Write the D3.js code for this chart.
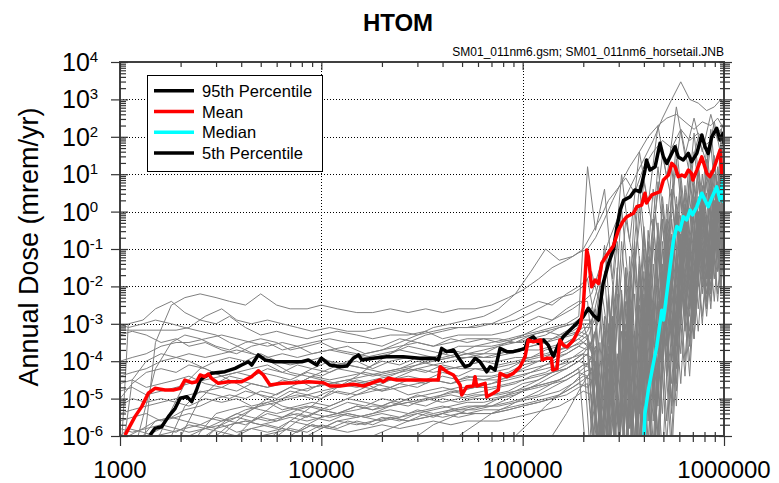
<!doctype html>
<html>
  <head>
    <meta charset="utf8">
    <script src="https://d3js.org/d3.v7.min.js"></script>
    <style type="text/css">
      body {
        margin: 0;
        background: #fff;
        font-family: 'Liberation Sans', Arial, sans-serif;
      }
    </style>
  </head>
  <body>
    <script type="text/javascript">
      const w = 779;
      const h = 483;
      const plot = {left: 120, right: 724, top: 62, bottom: 436};

      // sample times (yr) of the realizations; odd rows were saved on the second grid
      const years = [1000, 1100, 1300, 1500, 1800, 2100, 2500, 3000, 3500, 4200, 5000, 6000,
        7000, 8500, 10000, 12000, 15000, 18000, 22000, 27000, 33000, 40000, 48000, 58000,
        70000, 85000, 100000, 120000, 140000, 165000, 190000,
        210000, 230000, 255000, 280000, 310000, 340000, 380000, 420000, 470000, 520000,
        580000, 640000, 710000, 780000, 860000, 930000, 1000000];
      const yearsAlt = [1000, 1150, 1350, 1600, 1900, 2200, 2650, 3200, 3800, 4500, 5400, 6400,
        7600, 9000, 11000, 13500, 16500, 20000, 24500, 30000, 36000, 44000, 53000, 64000,
        76000, 92000, 110000, 130000, 152000, 177000, 200000,
        220000, 242000, 267000, 295000, 325000, 360000, 400000, 445000, 495000, 550000,
        610000, 675000, 745000, 820000, 895000, 965000, 1000000];

      // log10 of annual dose (mrem/yr), one row per realization; -7 is under the plot
      const realizations = [
        [-7,-7,-6.5,-3.5,-2.5,-2.3,-2.2,-2.3,-2.4,-2.5,-2.2,-2.5,-2.6,-2.6,-2.5,-2.6,-2.7,-2.7,-2.6,-2.7,-2.6,-2.7,-2.6,-2.6, -2.5,-2.3,-2.1,-1.8,-1.5,-1.3,-1.1, -1.0,-0.7,-0.2,0.3,0.8,1.2,1.6,2.0,2.3,2.5,2.6,2.4,2.2,2.4,2.3,2.5,2.2],
        [-3.17,-3.17,-3.17,-3.17,-3.17,-3.1,-2.8,-2.6,-2.9,-3.0,-2.9,-3.0,-3.1,-3.2,-3.1,-3.2,-3.2,-3.1,-3.2,-3.3,-3.2,-3.1,-3.1,-3.0, -3.0,-2.9,-2.7,-2.5,-2.3,-2.2,-2.0, -1.6,-2.5,-1.0,-3.0,-0.2,-1.5,0.8,-0.5,1.5,0.3,2.2,1.0,2.0,1.3,2.4,1.5,2.1],
        [-7,-3.0,-2.9,-2.6,-2.4,-2.7,-2.9,-3.0,-2.8,-3.1,-3.3,-3.2,-3.3,-3.4,-3.3,-3.2,-3.3,-3.4,-3.3,-3.3,-3.2,-3.4,-3.3,-3.3, -3.3,-3.2,-3.0,-2.8,-2.9,-2.6,-2.4, -2.4,-4.5,-1.6,-5.0,-0.8,-3.5,0.2,-2.6,0.8,-1.6,1.4,-0.8,1.6,0.0,1.8,-0.3,1.6],
        [-3.3,-3.2,-3.3,-3.5,-3.4,-3.6,-3.5,-3.7,-3.8,-3.6,-3.5,-3.7,-3.6,-3.8,-3.7,-3.6,-3.8,-3.7,-3.6,-3.5,-3.6,-3.4,-3.5,-3.4, -3.5,-3.4,-3.3,-3.2,-3.1,-3.0,-2.9, -2.9,-5.5,-2.2,-6.5,-1.5,-4.5,-0.4,-3.5,0.4,-2.2,1.0,-1.4,1.3,-0.8,1.5,-0.4,1.3],
        [-7,-7,-5.5,-4.2,-3.5,-3.3,-3.4,-3.6,-3.7,-3.5,-3.4,-3.5,-3.7,-3.6,-3.5,-3.7,-3.8,-3.9,-3.8,-3.6,-3.7,-3.8,-3.6,-3.6, -3.6,-3.5,-3.5,-3.4,-3.4,-3.3,-3.2, -3.3,-7,-2.8,-7,-2.2,-6.5,-1.4,-5.0,-0.5,-3.6,0.2,-2.6,0.7,-1.8,0.9,-1.2,0.8],
        [-4.0,-3.9,-3.8,-3.6,-3.5,-3.5,-3.4,-3.3,-3.4,-3.5,-3.6,-3.5,-3.6,-3.5,-3.4,-3.5,-3.5,-3.6,-3.4,-3.5,-3.6,-3.5,-3.4,-3.4, -3.4,-3.5,-3.3,-3.2,-3.3,-3.1,-3.0, -3.0,-2.0,-5.0,-1.5,-6.5,-0.8,-5.0,-0.2,-3.4,0.4,-2.4,0.8,-1.6,1.1,-1.2,1.3,-0.6],
        [-7,-7,-7,-6.2,-5.3,-4.6,-4.2,-4.0,-3.9,-4.0,-3.8,-4.0,-4.1,-4.0,-3.9,-4.1,-4.0,-4.2,-4.0,-3.9,-4.0,-3.8,-3.9,-3.9, -3.9,-3.8,-3.7,-3.7,-3.6,-3.5,-3.3, -3.4,-2.8,-7,-2.2,-7,-1.6,-6.0,-0.8,-4.4,-0.2,-3.0,0.5,-2.2,0.7,-1.6,0.8,-1.0],
        [-5.0,-4.6,-4.3,-4.2,-4.3,-4.1,-4.2,-4.4,-4.3,-4.2,-4.1,-4.3,-4.4,-4.2,-4.3,-4.1,-4.2,-4.3,-4.2,-4.0,-4.1,-4.2,-4.1,-4.0, -4.0,-3.9,-3.9,-3.8,-3.7,-3.6,-3.5, -3.6,-7,-3.0,-7,-2.6,-7,-1.8,-5.6,-1.0,-4.0,-0.2,-2.8,0.3,-2.0,0.6,-1.4,0.5],
        [-7,-7,-7,-7,-6.5,-5.8,-5.0,-4.6,-4.4,-4.5,-4.3,-4.4,-4.5,-4.3,-4.4,-4.2,-4.3,-4.4,-4.3,-4.2,-4.3,-4.1,-4.2,-4.2, -4.2,-4.1,-4.0,-4.0,-3.9,-3.8,-3.6, -3.7,-3.2,-7,-2.8,-7,-2.2,-7,-1.4,-5.2,-0.6,-3.6,0.1,-2.6,0.4,-1.8,0.6,-1.2],
        [-4.6,-4.5,-4.7,-4.6,-4.5,-4.4,-4.6,-4.7,-4.5,-4.6,-4.7,-4.6,-4.5,-4.7,-4.6,-4.5,-4.6,-4.8,-4.7,-4.6,-4.5,-4.6,-4.5,-4.5, -4.5,-4.4,-4.3,-4.2,-4.1,-4.0,-3.8, -3.9,-7,-3.4,-7,-3.0,-7,-2.2,-6.2,-1.4,-4.6,-0.6,-3.2,0.0,-2.2,0.3,-1.6,0.2],
        [-7,-7,-7,-6.8,-6.0,-5.2,-4.8,-4.9,-5.0,-4.8,-4.9,-5.0,-4.8,-4.9,-5.0,-4.8,-4.9,-4.8,-4.7,-4.9,-4.8,-4.7,-4.8,-4.7, -4.7,-4.6,-4.5,-4.4,-4.3,-4.2,-4.0, -4.1,-3.6,-7,-3.2,-7,-2.6,-7,-1.8,-6.0,-1.0,-4.0,-0.3,-2.8,0.2,-2.0,0.4,-1.4],
        [-5.2,-5.0,-5.1,-5.0,-5.1,-5.2,-5.0,-5.1,-5.0,-5.2,-5.1,-5.3,-5.2,-5.1,-5.2,-5.0,-5.1,-5.2,-5.0,-5.1,-5.0,-4.9,-5.0,-4.9, -4.9,-4.8,-4.7,-4.6,-4.5,-4.3,-4.1, -4.2,-7,-3.8,-7,-3.4,-7,-2.8,-7,-1.8,-5.4,-0.9,-3.6,-0.2,-2.4,0.1,-1.8,0.0],
        [-7,-7,-7,-7,-7,-6.6,-5.9,-5.4,-5.3,-5.2,-5.3,-5.4,-5.3,-5.2,-5.3,-5.4,-5.2,-5.3,-5.2,-5.1,-5.2,-5.0,-5.1,-5.0, -5.0,-4.9,-4.8,-4.7,-4.6,-4.5,-4.3, -4.4,-4.0,-7,-3.6,-7,-3.0,-7,-2.4,-7,-1.4,-4.6,-0.6,-3.0,0.0,-2.2,0.2,-1.6],
        [-5.6,-5.5,-5.4,-5.6,-5.5,-5.4,-5.5,-5.6,-5.4,-5.5,-5.6,-5.5,-5.4,-5.5,-5.6,-5.4,-5.5,-5.4,-5.5,-5.3,-5.4,-5.3,-5.2,-5.2, -5.2,-5.1,-5.0,-4.9,-4.8,-4.6,-4.4, -4.5,-7,-4.2,-7,-3.8,-7,-3.2,-7,-2.2,-6.0,-1.2,-4.0,-0.4,-2.6,0.0,-2.0,-0.2],
        [-7,-7,-7,-7,-7,-7,-6.8,-6.0,-5.7,-5.6,-5.7,-5.8,-5.6,-5.7,-5.8,-5.6,-5.7,-5.6,-5.5,-5.6,-5.5,-5.4,-5.5,-5.4, -5.4,-5.3,-5.2,-5.1,-5.0,-4.8,-4.6, -4.7,-4.4,-7,-4.0,-7,-3.4,-7,-2.8,-7,-1.8,-5.2,-0.8,-3.4,-0.2,-2.4,0.1,-1.8],
        [-5.8,-5.9,-5.8,-5.7,-5.8,-5.9,-5.8,-5.7,-5.9,-5.8,-5.7,-5.8,-5.9,-5.7,-5.8,-5.9,-5.8,-5.7,-5.8,-5.7,-5.6,-5.7,-5.6,-5.6, -5.6,-5.5,-5.4,-5.3,-5.2,-5.0,-4.8, -4.9,-7,-4.6,-7,-4.2,-7,-3.6,-7,-2.6,-6.6,-1.5,-4.4,-0.6,-2.8,-0.2,-2.2,-0.4],
        [-7,-7,-7,-7,-7,-7,-7,-7,-7,-7,-6.8,-6.4,-6.0,-5.7,-5.5,-5.4,-5.3,-5.2,-5.2,-5.0,-4.9,-4.8,-4.7,-4.7, -4.6,-4.4,-4.2,-4.0,-3.8,-3.6,-3.4, -3.2,-2.6,-6.0,-2.0,-7,-1.2,-5.4,-0.5,-3.8,0.2,-2.6,0.7,-1.8,1.0,-1.4,1.2,-0.8],
        [-7,-7,-7,-7,-7,-7,-7,-6.5,-6.0,-5.6,-5.3,-5.0,-4.8,-4.7,-4.6,-4.5,-4.4,-4.3,-4.2,-4.1,-4.0,-3.9,-3.8,-3.7, -3.6,-3.5,-3.4,-3.3,-3.1,-3.0,-2.8, -2.6,-1.8,-3.4,-0.8,-4.0,0.1,-2.6,0.6,-2.0,1.2,-1.4,1.5,-0.8,1.7,-0.4,1.8,1.2],
        [-7,-7,-7,-7,-7,-6.8,-6.2,-5.8,-5.5,-5.3,-5.2,-5.1,-5.0,-4.9,-4.8,-4.7,-4.6,-4.5,-4.4,-4.2,-4.0,-3.9,-3.8,-3.6, -3.5,-3.4,-3.3,-3.2,-3.1,-3.0,-2.8, 1.2,-0.5,0.6,-1.8,1.0,-0.8,1.6,0.2,2.3,0.9,2.8,1.5,2.5,1.6,2.6,1.9,2.4],
        [-7,-7,-7,-7,-7,-7,-7,-7,-7,-6.6,-6.2,-5.9,-5.6,-5.4,-5.2,-5.0,-4.8,-4.6,-4.4,-4.2,-4.1,-4.0,-3.9,-3.8, -3.6,-3.4,-3.2,-3.0,-2.8,-2.6,-2.4, -2.2,-1.5,-0.8,-0.2,0.4,0.9,1.4,1.9,2.5,3.0,3.47,3.0,2.9,2.7,2.8,3.0,2.8],
        [-7,-7,-6.0,-5.6,-5.5,-5.6,-5.7,-5.5,-5.6,-5.7,-5.5,-5.6,-5.4,-5.5,-5.3,-5.4,-5.2,-5.3,-5.1,-5.2,-5.0,-5.1,-5.0,-4.9, -4.9,-4.8,-4.6,-4.5,-4.3,-4.2,-4.0, -3.8,-6.5,-3.2,-7,-2.6,-7,-1.6,-5.6,-0.8,-4.0,0.0,-2.8,0.4,-2.0,0.6,-1.6,0.4],
        [-7,-7,-7,-7,-6.4,-6.0,-5.8,-5.9,-6.0,-5.8,-5.9,-5.8,-5.9,-5.7,-5.8,-5.6,-5.7,-5.5,-5.6,-5.4,-5.5,-5.3,-5.4,-5.3, -5.3,-5.2,-5.1,-5.0,-4.9,-4.7,-4.5, -4.3,-7,-3.9,-7,-3.5,-7,-2.6,-7,-1.6,-5.2,-0.8,-3.6,-0.2,-2.6,0.0,-2.0,-0.2],
        [-3.0,-3.1,-3.0,-2.9,-3.0,-3.1,-3.2,-3.3,-3.5,-3.7,-3.9,-4.1,-4.3,-4.4,-4.5,-4.6,-4.7,-4.6,-4.7,-4.5,-4.6,-4.4,-4.5,-4.4, -4.4,-4.3,-4.1,-4.0,-3.9,-3.7,-3.5, -3.3,-4.2,-7,-3.0,-7,-2.4,-7,-1.6,-5.0,-0.8,-3.4,-0.2,-2.4,0.3,-1.8,0.5,-1.2],
        [-7,-4.5,-4.0,-3.8,-3.9,-4.0,-4.2,-4.4,-4.6,-4.8,-5.0,-5.2,-5.3,-5.4,-5.5,-5.4,-5.5,-5.6,-5.5,-5.4,-5.3,-5.2,-5.1,-5.1, -5.0,-4.9,-4.7,-4.6,-4.5,-4.3,-4.1, -4.0,-7,-3.6,-7,-3.2,-7,-2.4,-6.8,-1.6,-5.0,-0.6,-3.4,0.0,-2.4,0.2,-1.8,0.0],
        [-7,-7,-7,-7,-7,-7,-7,-7,-7,-7,-7,-7,-7,-7,-6.8,-6.5,-6.2,-6.0,-5.8,-5.6,-5.5,-5.4,-5.3,-5.3, -5.2,-5.0,-4.8,-4.6,-4.4,-4.2,-4.0, -3.8,-3.2,-7,-2.8,-7,-2.0,-6.4,-1.2,-4.8,-0.4,-3.2,0.2,-2.2,0.5,-1.6,0.6,-1.0],
        [-7,-7,-7,-7,-7,-7,-7,-7,-7,-7,-7,-7,-7,-7,-7,-7,-7,-6.8,-6.4,-6.0,-5.7,-5.5,-5.3,-5.2, -5.0,-4.8,-4.6,-4.4,-4.2,-4.0,-3.8, -3.5,-7,-3.0,-7,-2.4,-6.6,-1.6,-5.0,-0.8,-3.6,-0.1,-2.6,0.4,-1.8,0.6,-1.2,0.5],
        [-6.0,-5.8,-5.9,-6.0,-5.9,-5.8,-5.7,-5.8,-5.7,-5.6,-5.7,-5.6,-5.5,-5.6,-5.5,-5.4,-5.5,-5.4,-5.3,-5.4,-5.3,-5.2,-5.3,-5.2, -5.2,-5.1,-5.0,-4.9,-4.7,-4.5,-4.3, -4.1,-3.7,-7,-3.3,-7,-2.7,-7,-2.0,-6.0,-1.2,-4.2,-0.4,-3.0,0.0,-2.2,0.2,-1.6],
        [-7,-7,-7,-7,-7,-7,-6.5,-6.0,-5.6,-5.3,-5.0,-4.8,-4.6,-4.4,-4.2,-4.0,-3.8,-3.7,-3.5,-3.3,-3.1,-3.0,-2.9,-2.8, -2.6,-2.2,-1.6,-1.0,-1.3,-1.2,-1.0, -0.6,-0.2,0.3,0.6,0.9,0.5,1.2,1.6,1.9,1.7,2.2,1.9,2.1,1.8,2.0,2.2,1.9],
        [-7,-7,-7,-7,-7,-7,-7,-7,-7,-6.8,-6.3,-5.9,-5.6,-5.3,-5.0,-4.7,-4.4,-4.1,-3.8,-3.5,-3.3,-3.2,-3.1,-3.1, -3.0,-2.8,-2.6,-2.4,-2.5,-2.2,-2.0, -1.8,-3.0,-0.9,-3.5,0.1,-2.3,0.7,-1.7,1.2,-1.0,1.8,-0.5,2.1,0.0,2.2,0.4,2.0],
        [-4.4,-4.3,-4.2,-4.0,-3.9,-3.8,-3.9,-3.8,-3.7,-3.8,-3.9,-3.8,-3.9,-3.8,-3.7,-3.8,-3.9,-3.8,-3.7,-3.8,-3.9,-3.7,-3.8,-3.8, -3.8,-3.7,-3.6,-3.5,-3.4,-3.3,-3.1, -3.1,-6.0,-2.4,-7,-1.8,-6.2,-1.0,-4.6,-0.2,-3.4,0.4,-2.4,0.8,-1.8,1.0,-1.4,0.9],
        [-7,-7,-7,-7,-7,-7,-7,-7,-6.6,-6.2,-6.0,-5.9,-5.8,-5.9,-5.7,-5.8,-5.6,-5.7,-5.5,-5.6,-5.4,-5.5,-5.4,-5.4, -5.4,-5.3,-5.2,-5.1,-5.0,-4.9,-4.7, -4.6,-7,-4.3,-7,-3.9,-7,-3.3,-7,-2.4,-6.2,-1.4,-4.4,-0.6,-3.0,-0.2,-2.4,-0.4],
        [-7,-7,-7,-7,-7,-7,-7,-7,-7,-7,-7,-7,-7,-7,-7,-7,-7,-7,-7,-7,-7,-7,-7,-7, -6.6,-6.0,-5.6,-5.2,-4.9,-4.6,-4.3, -4.2,-5.0,-7,-3.8,-7,-3.2,-7,-2.4,-6.6,-1.6,-4.6,-0.7,-3.2,-0.1,-2.4,0.2,-1.8],
        [-6.2,-6.0,-5.8,-5.6,-5.5,-5.3,-5.2,-5.0,-4.9,-5.0,-4.8,-4.9,-4.7,-4.8,-4.6,-4.7,-4.5,-4.6,-4.5,-4.4,-4.5,-4.3,-4.4,-4.2, -4.3,-4.2,-4.0,-3.9,-3.8,-3.6,-3.4, -3.6,-5.5,-2.9,-7,-2.1,-5.8,-1.2,-4.5,-0.3,-3.0,0.4,-2.0,0.9,-1.4,1.1,-0.9,1.0],
        [-7,-7,-7,-7,-7,-6.5,-6.0,-5.7,-5.5,-5.3,-5.1,-5.0,-4.9,-5.0,-4.8,-4.9,-4.7,-4.8,-4.6,-4.7,-4.5,-4.6,-4.4,-4.5, -4.4,-4.3,-4.2,-4.1,-4.0,-3.9,-3.8, -7,-3.5,-7,-2.9,-7,-2.2,-6.8,-1.4,-5.4,-0.6,-3.8,0.1,-2.6,0.5,-1.8,0.7,-1.2],
        [-7,-7,-7,-7,-7,-7,-7,-7,-7,-7,-7,-6.7,-6.3,-6.0,-5.8,-5.6,-5.5,-5.4,-5.2,-5.1,-5.0,-4.9,-4.8,-4.7, -4.6,-4.5,-4.4,-4.2,-4.0,-3.8,-3.6, -3.4,-7,-2.9,-7,-2.4,-7,-1.7,-6.2,-1.0,-4.4,-0.2,-3.2,0.3,-2.2,0.6,-1.6,0.5],
        [-5.4,-5.3,-5.2,-5.1,-5.0,-4.9,-4.8,-4.7,-4.8,-4.6,-4.7,-4.5,-4.6,-4.4,-4.5,-4.4,-4.3,-4.4,-4.3,-4.2,-4.3,-4.2,-4.1,-4.0, -4.1,-4.0,-3.9,-3.7,-3.6,-3.4,-3.2, -2.9,-6.0,-2.3,-7,-1.5,-6.2,-0.6,-4.8,0.2,-3.2,0.8,-2.2,1.2,-1.4,1.4,-0.8,1.2],
        [-7,-7,-7,-7,-7,-7,-7,-7,-7,-7,-7,-7,-7,-7,-7,-7,-7,-7,-7,-7,-6.8,-6.4,-6.0,-5.7, -5.4,-5.2,-5.0,-4.8,-4.6,-4.4,-4.2, -7,-4.0,-7,-3.5,-7,-2.9,-7,-2.2,-6.4,-1.4,-4.8,-0.6,-3.4,-0.1,-2.6,0.2,-2.0],
        [-6.5,-6.3,-6.0,-5.8,-5.9,-5.7,-5.8,-5.6,-5.5,-5.6,-5.4,-5.5,-5.3,-5.2,-5.3,-5.1,-5.2,-5.0,-5.1,-4.9,-5.0,-4.8,-4.9,-4.8, -4.7,-4.6,-4.4,-4.3,-4.1,-3.9,-3.7, -3.5,-2.8,-6.5,-2.2,-7,-1.5,-5.8,-0.8,-4.2,-0.2,-3.0,0.4,-2.0,0.8,-1.4,1.0,-0.8],
        [-7,-7,-7,-7,-7,-7,-7,-7,-7,-7,-7,-7,-7,-7,-7,-7,-7,-7,-7,-7,-7,-7,-7,-7, -7,-7,-7,-6.6,-6.0,-5.4,-4.8, -4.4,-7,-3.8,-7,-3.2,-7,-2.5,-7,-1.8,-5.6,-1.0,-4.0,-0.4,-2.8,0.0,-2.2,-0.2],
        [-4.8,-4.7,-4.9,-4.8,-4.7,-4.6,-4.5,-4.4,-4.3,-4.4,-4.2,-4.3,-4.1,-4.2,-4.0,-4.1,-4.2,-4.0,-4.1,-3.9,-4.0,-3.9,-3.8,-3.9, -3.8,-3.7,-3.6,-3.5,-3.3,-3.2,-3.0, -3.8,-2.5,-6.0,-1.8,-6.8,-1.0,-5.2,-0.2,-3.6,0.6,-2.4,1.1,-1.6,1.4,-1.0,1.6,-0.6]
      ];

      // [year, dose mrem/yr]
      const p95 = [[1410,1.06e-6],[1492,1.6e-6],[1610,1.77e-6],[1740,3.3e-6],[1880,5.5e-6],[1990,1.02e-5],
        [2150,1.12e-5],[2270,8.3e-6],[2400,1.7e-5],[2500,3.14e-5],[2640,3.86e-5],[2850,4.74e-5],[3320,5.24e-5],
        [3730,6.45e-5],[4020,7.9e-5],[4340,9.7e-5],[4510,7.9e-5],[4860,1.47e-4],[5250,1.08e-4],[5890,9.7e-5],
        [6860,9.7e-5],[7990,9.7e-5],[8620,1.08e-4],[9490,7.9e-5],[10000,1.2e-4],[11050,7.9e-5],[12380,7.1e-5],
        [13400,7.4e-5],[14400,1.2e-4],[15300,1.47e-4],[15900,1.08e-4],[18100,1.2e-4],[21100,1.32e-4],
        [25500,1.32e-4],[30900,1.2e-4],[36000,1.2e-4],[38100,1.08e-4],[39600,2.2e-4],[42000,1.8e-4],
        [45300,2.0e-4],[48900,1.08e-4],[51700,7.1e-5],[54700,7.9e-5],[58000,1.2e-4],[61400,9.7e-5],
        [66300,5.2e-5],[68900,7.1e-5],[72900,5.8e-5],[77200,2.2e-4],[83400,1.8e-4],[89900,1.8e-4],
        [97100,2.0e-4],[102800,2.2e-4],[106000,3.7e-4],[113000,4.5e-4],[120000,3.0e-4],[127000,3.7e-4],
        [134000,2.7e-4],[142000,1.32e-4],[150000,2.7e-4],[159000,4.5e-4],[172000,6.8e-4],[186000,1.03e-3],
        [200000,1.55e-3],[212000,2.6e-3],[224000,1.72e-3],[238000,1.26e-3],[242000,2.86e-3],[251000,1.2e-2],
        [267000,4.15e-2],[282000,9.4e-2],[293000,0.35],[305000,1.1],[317000,2.0],[342000,2.5],[361000,3.8],
        [383000,3.4],[405000,12.9],[412000,24],[429000,12.9],[455000,15.9],[481000,67],[500000,29],
        [520000,19.5],[550000,36],[571000,54],[593000,29],[628000,24],[665000,36],[690000,21.6],[733000,36],
        [776000,112],[805000,54],[835000,36],[869000,100],[920000,169],[956000,82],[990000,124],[1000000,67]];

      const mean = [[1059,1.06e-6],[1187,3.3e-6],[1282,6.1e-6],[1382,1.39e-5],[1492,1.88e-5],[1673,1.7e-5],
        [1840,1.7e-5],[1990,1.88e-5],[2100,3.14e-5],[2270,2.66e-5],[2400,2.83e-5],[2500,4.28e-5],[2640,3.86e-5],
        [2750,4.55e-5],[2850,3.49e-5],[3080,2.56e-5],[3450,2.83e-5],[4020,2.83e-5],[4510,3.86e-5],[4860,5.57e-5],
        [5150,4.28e-5],[5560,2.31e-5],[6360,2.56e-5],[7400,2.66e-5],[8620,2.83e-5],[10230,2.66e-5],[11050,2.17e-5],
        [12380,2.17e-5],[14400,2.41e-5],[16200,2.17e-5],[19600,3.14e-5],[20300,2.83e-5],[21500,3.49e-5],
        [23700,3.14e-5],[28600,3.14e-5],[38100,3.14e-5],[38900,7.1e-5],[42000,5.24e-5],[45300,4.28e-5],
        [48900,2.31e-5],[49800,1.25e-5],[52800,2.08e-5],[56900,2.17e-5],[58000,3.86e-5],[59100,2.17e-5],
        [65100,2.56e-5],[66300,1.12e-5],[71500,1.39e-5],[75700,1.7e-5],[77200,4.74e-5],[83400,3.86e-5],
        [89900,4.74e-5],[97100,7.1e-5],[102800,1.32e-4],[106700,3.69e-4],[113000,3.3e-4],[123000,3.7e-4],
        [125000,1.08e-4],[132000,1.2e-4],[139000,1.2e-4],[141000,5.8e-5],[148000,6.3e-5],[153000,3.7e-4],
        [159000,2.7e-4],[166000,2.4e-4],[179000,3.7e-4],[193000,8.4e-4],[200000,2.86e-3],[208000,0.094],
        [212000,0.062],[220000,9.8e-3],[229000,1.48e-2],[238000,1.2e-2],[247000,4.15e-2],[262000,6.9e-2],
        [282000,0.12],[299000,0.32],[315000,0.55],[329000,0.73],[355000,0.9],[369000,1.35],[390000,1.5],
        [405000,3.1],[412000,1.7],[438000,2.8],[481000,3.4],[500000,7.0],[530000,9.5],[550000,19.5],
        [571000,15.9],[593000,8.6],[617000,9.5],[640000,8.6],[665000,12.9],[690000,10.5],[700000,7.0],
        [733000,12.9],[776000,29],[822000,10.5],[850000,8.6],[885000,12.9],[920000,24],[956000,44],
        [975000,10.5],[1000000,19.5]];

      const median = [[400000,8e-7],[405000,4.0e-6],[421000,1.7e-5],[446000,8.8e-5],[463000,2.4e-4],
        [481000,1.03e-3],[491000,2.3e-3],[500000,1.26e-3],[520000,6.5e-3],[540000,3.4e-2],[561000,0.17],
        [583000,0.40],[605000,0.32],[628000,0.73],[653000,0.6],[679000,1.1],[697000,0.82],[733000,1.35],
        [776000,3.1],[805000,2.0],[835000,1.35],[869000,2.3],[920000,4.6],[956000,2.0],[990000,7.0],[1000000,1.7]];

      // stays below 1e-6 for the whole period
      const p5 = [];

      const xTicks = [1000, 10000, 100000, 1000000];
      const yExponents = [-6, -5, -4, -3, -2, -1, 0, 1, 2, 3, 4];
      const legendLabels = ['95th Percentile', 'Mean', 'Median', '5th Percentile'];

      const seriesColor = {p95: '#000000', mean: '#ff0000', median: '#00ffff', p5: '#000000'};

      const xScale = d3.scaleLog()
        .domain([1000, 1000000])
        .range([plot.left, plot.right]);

      const yScale = d3.scaleLog()
        .domain([1e-6, 1e4])
        .range([plot.bottom, plot.top]);

      const minorX = [];
      [1000, 10000, 100000].forEach(d => { for (let k = 2; k < 10; k++) minorX.push(d * k); });
      const minorY = [];
      yExponents.slice(0, -1).forEach(e => { for (let k = 2; k < 10; k++) minorY.push(k * Math.pow(10, e)); });
      const majorY = yExponents.map(e => Math.pow(10, e));

      const svg = d3.select('body')
        .append('svg')
        .attr('width', w)
        .attr('height', h)
        .style('font-family', "'Liberation Sans', Arial, sans-serif");

      svg.append('defs').append('clipPath')
        .attr('id', 'clip')
        .append('rect')
        .attr('x', plot.left)
        .attr('y', plot.top)
        .attr('width', plot.right - plot.left)
        .attr('height', plot.bottom - plot.top);

      // dotted grid
      const grid = svg.append('g')
        .attr('stroke', '#000')
        .attr('stroke-width', 1)
        .attr('stroke-dasharray', '1,2');

      grid.selectAll('line.gy')
        .data(majorY.slice(1, -1))
        .enter()
        .append('line')
        .attr('x1', plot.left)
        .attr('x2', plot.right)
        .attr('y1', (d) => Math.round(yScale(d)) + 0.5)
        .attr('y2', (d) => Math.round(yScale(d)) + 0.5);

      grid.selectAll('line.gx')
        .data(xTicks.slice(1, -1))
        .enter()
        .append('line')
        .attr('y1', plot.top)
        .attr('y2', plot.bottom)
        .attr('x1', (d) => Math.round(xScale(d)) + 0.5)
        .attr('x2', (d) => Math.round(xScale(d)) + 0.5);

      const line = d3.line()
        .defined((d) => isFinite(d[0]) && isFinite(d[1]))
        .x((d) => xScale(d[0]))
        .y((d) => yScale(d[1]));

      const data = svg.append('g').attr('clip-path', 'url(#clip)');

      data.selectAll('path.real')
        .data(realizations)
        .enter()
        .append('path')
        .attr('fill', 'none')
        .attr('stroke', '#808080')
        .attr('stroke-width', 1)
        .attr('d', (r, j) => {
          const t = j % 2 ? yearsAlt : years;
          return line(r.map((v, i) => [t[i], Math.pow(10, v)]));
        });

      const stats = [[p95, seriesColor.p95], [mean, seriesColor.mean], [median, seriesColor.median], [p5, seriesColor.p5]];
      data.selectAll('path.stat')
        .data(stats)
        .enter()
        .append('path')
        .attr('fill', 'none')
        .attr('stroke', (d) => d[1])
        .attr('stroke-width', 3.5)
        .attr('stroke-linejoin', 'round')
        .attr('d', (d) => d[0].length ? line(d[0]) : null);

      // frame
      svg.append('rect')
        .attr('x', plot.left)
        .attr('y', plot.top)
        .attr('width', plot.right - plot.left)
        .attr('height', plot.bottom - plot.top)
        .attr('fill', 'none')
        .attr('stroke', '#404040')
        .attr('stroke-width', 2);

      function ticks(axis, values, size, tx, ty) {
        svg.append('g')
          .attr('transform', `translate(${tx},${ty})`)
          .call(axis.tickValues(values).tickSize(size).tickFormat(''))
          .call((g) => g.select('.domain').remove())
          .call((g) => g.selectAll('line').attr('stroke', '#333').attr('stroke-width', 1.2));
      }

      // bottom
      ticks(d3.axisBottom(xScale), xTicks, 10, 0, plot.bottom);
      ticks(d3.axisBottom(xScale), minorX, 6, 0, plot.bottom);
      ticks(d3.axisTop(xScale), minorX, 4, 0, plot.bottom);
      // top
      ticks(d3.axisBottom(xScale), xTicks, 8, 0, plot.top);
      ticks(d3.axisBottom(xScale), minorX, 5, 0, plot.top);
      // left
      ticks(d3.axisLeft(yScale), majorY, 9, plot.left, 0);
      ticks(d3.axisRight(yScale), majorY, 8, plot.left, 0);
      ticks(d3.axisRight(yScale), minorY, 6, plot.left, 0);
      // right
      ticks(d3.axisRight(yScale), majorY, 8, plot.right, 0);
      ticks(d3.axisLeft(yScale), majorY, 5, plot.right, 0);
      ticks(d3.axisRight(yScale), minorY, 6, plot.right, 0);
      ticks(d3.axisLeft(yScale), minorY, 4, plot.right, 0);

      // tick labels
      svg.selectAll('text.xl')
        .data(xTicks)
        .enter()
        .append('text')
        .attr('x', (d) => xScale(d))
        .attr('y', 478)
        .attr('text-anchor', 'middle')
        .attr('font-size', '24px')
        .attr('fill', '#000')
        .text((d) => d);

      const yl = svg.selectAll('text.yl')
        .data(yExponents)
        .enter()
        .append('text')
        .attr('x', 62)
        .attr('y', (d) => yScale(Math.pow(10, d)) + 9)
        .attr('font-size', '25px')
        .attr('fill', '#000');
      yl.append('tspan').text('10');
      yl.append('tspan')
        .attr('font-size', '15px')
        .attr('dy', -9)
        .text((d) => d);

      svg.append('text')
        .attr('transform', 'translate(38,247) rotate(-90)')
        .attr('text-anchor', 'middle')
        .attr('font-size', '27px')
        .text('Annual Dose (mrem/yr)');

      svg.append('text')
        .attr('x', 398)
        .attr('y', 31)
        .attr('text-anchor', 'middle')
        .attr('font-size', '24px')
        .attr('font-weight', 'bold')
        .text('HTOM');

      svg.append('text')
        .attr('x', plot.right)
        .attr('y', 56)
        .attr('text-anchor', 'end')
        .attr('font-size', '12px')
        .text('SM01_011nm6.gsm; SM01_011nm6_horsetail.JNB');

      // legend
      const legend = svg.append('g');
      legend.append('rect')
        .attr('x', 147.5)
        .attr('y', 75.5)
        .attr('width', 175)
        .attr('height', 96)
        .attr('fill', '#fff')
        .attr('stroke', '#000')
        .attr('stroke-width', 1);

      const legendKeys = ['p95', 'mean', 'median', 'p5'];
      const items = legend.selectAll('g.item')
        .data(legendLabels)
        .enter()
        .append('g')
        .attr('transform', (d, i) => `translate(0,${90.7 + i * 20.8})`);
      items.append('line')
        .attr('x1', 154)
        .attr('x2', 194)
        .attr('stroke', (d, i) => seriesColor[legendKeys[i]])
        .attr('stroke-width', 3.5);
      items.append('text')
        .attr('x', 202)
        .attr('y', 6)
        .attr('font-size', '16.5px')
        .text((d) => d);
    </script>
  </body>
</html>
